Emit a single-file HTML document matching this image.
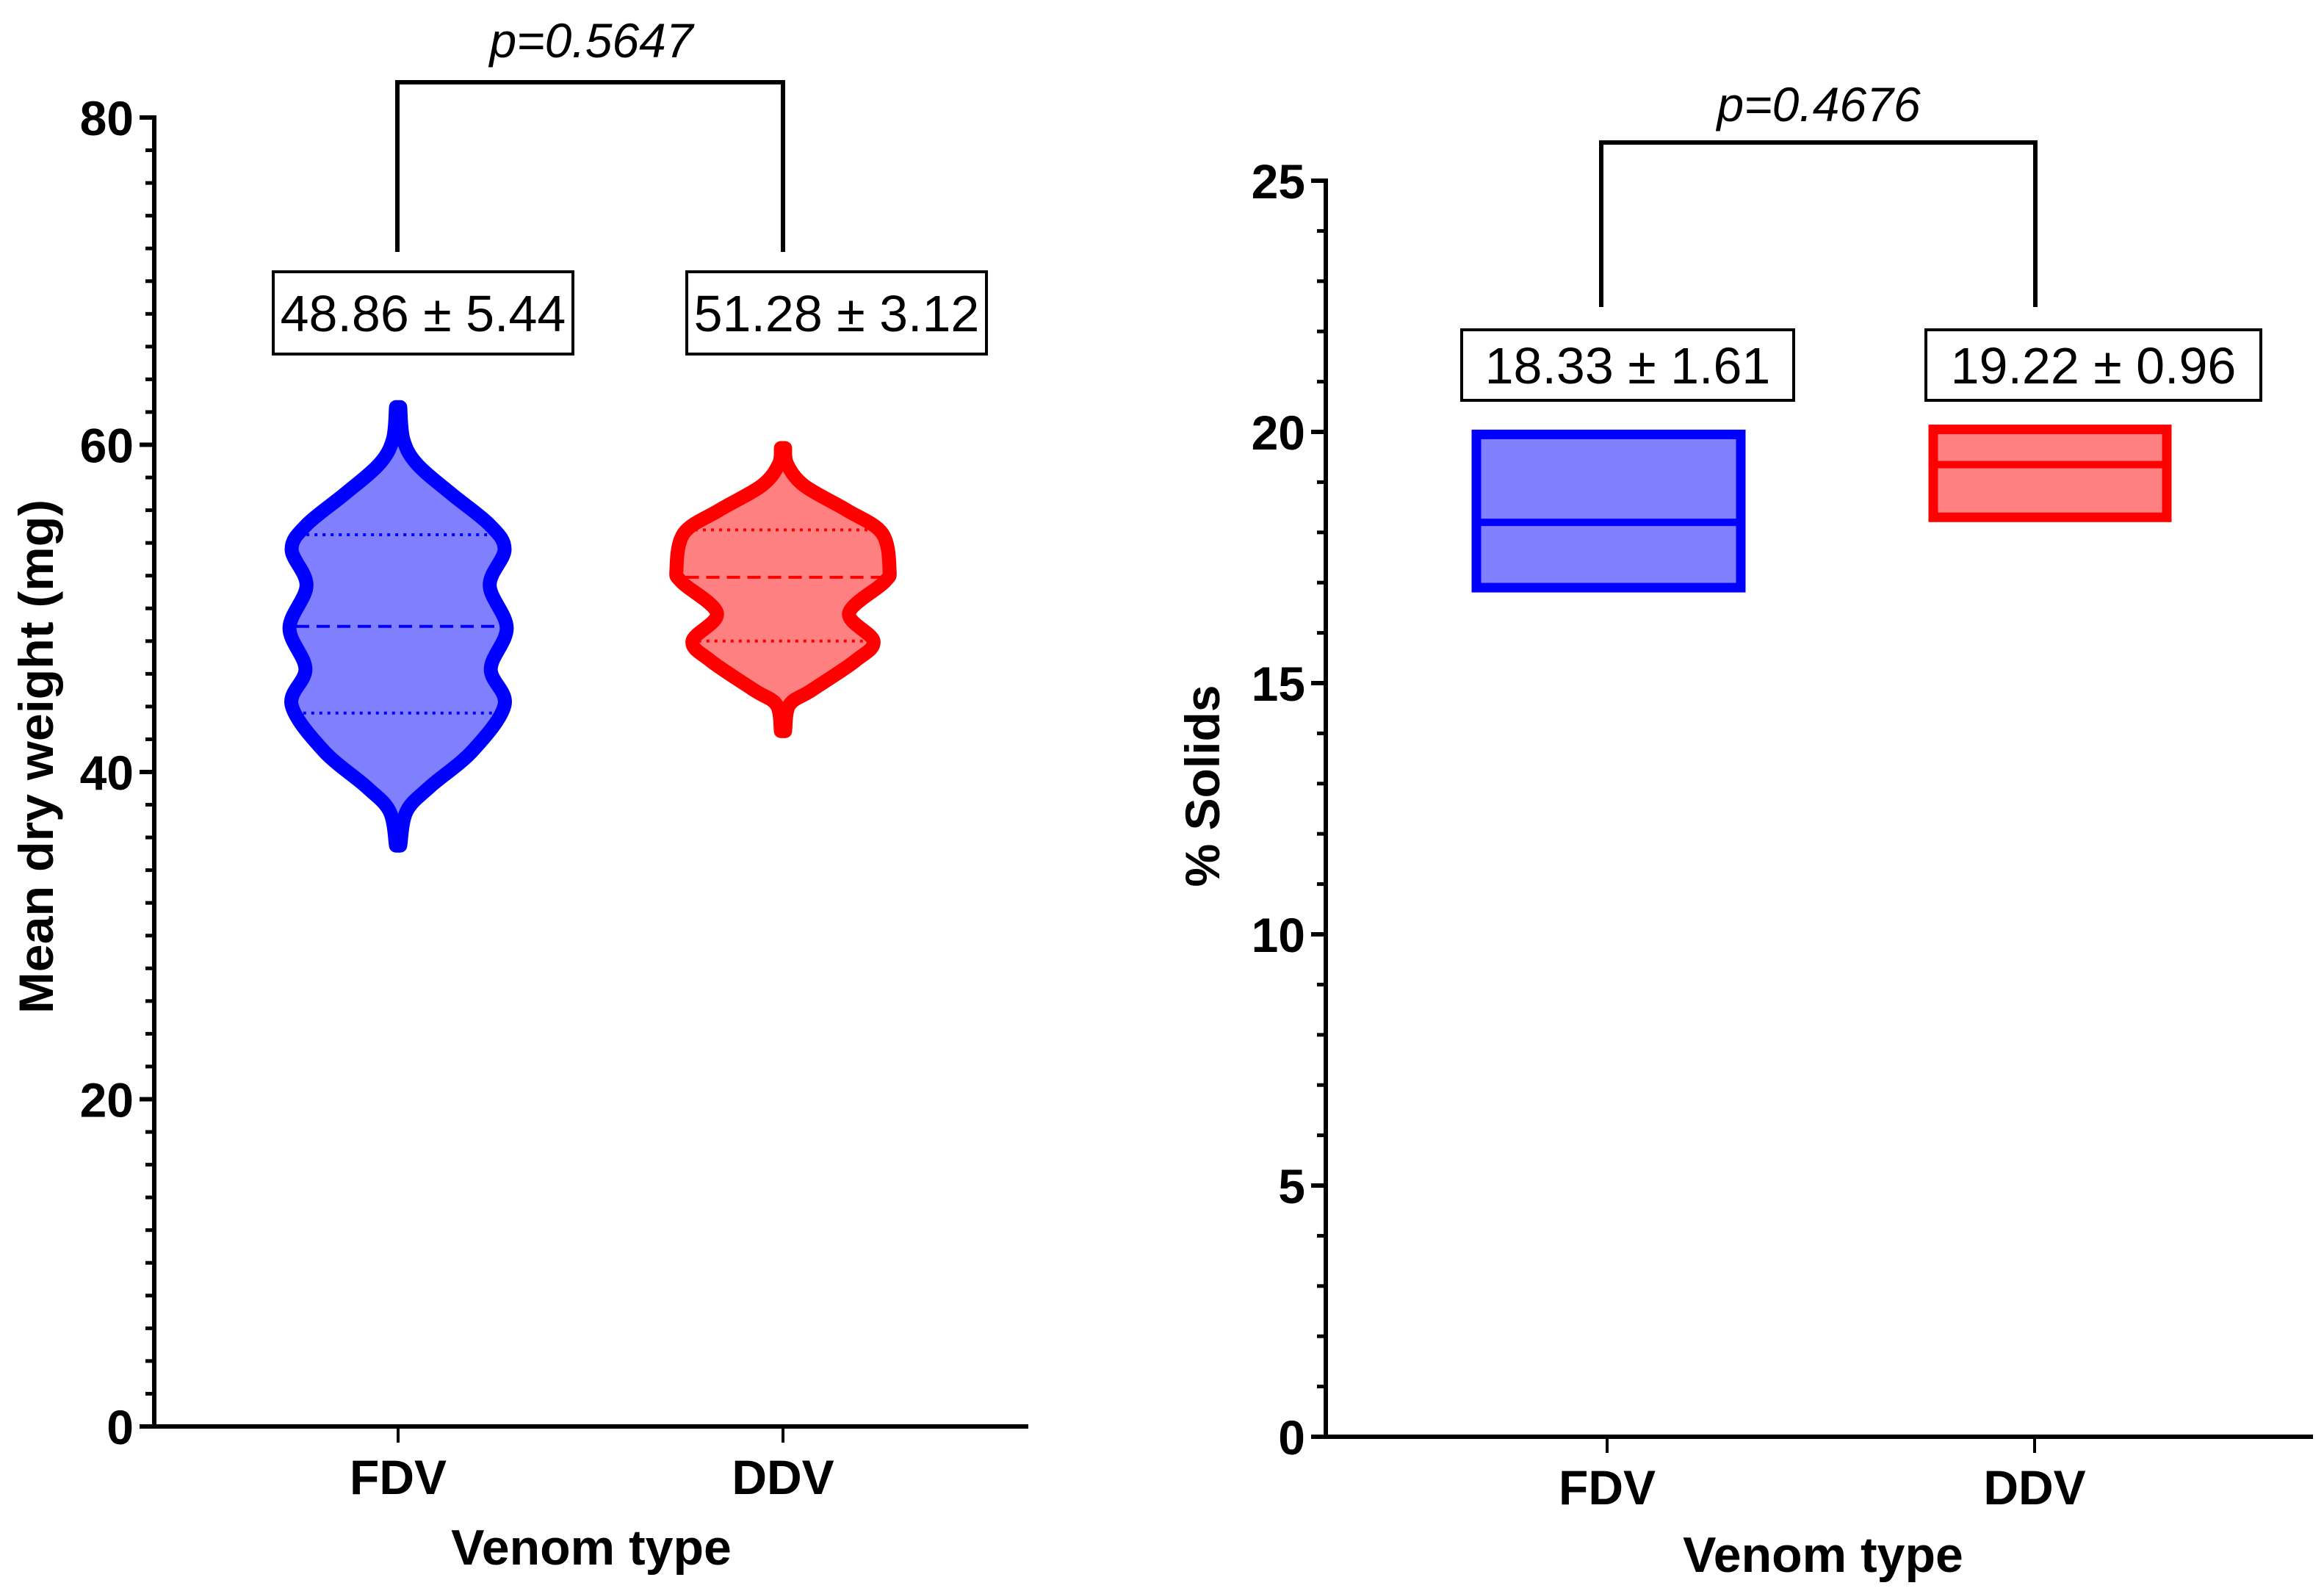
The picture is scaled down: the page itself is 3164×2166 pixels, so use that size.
<!DOCTYPE html>
<html><head><meta charset="utf-8"><style>
html,body{margin:0;padding:0;background:#fff;}
svg{display:block;font-family:"Liberation Sans",Arial,sans-serif;}
</style></head><body>
<svg id="chart" width="3164" height="2166" viewBox="0 0 3164 2166" xmlns="http://www.w3.org/2000/svg">
<g id="left"></g>
<g id="right"></g>
</svg>
<script>
// ---- data ----
const categories = ["FDV", "DDV"];
const leftTicks = [0, 20, 40, 60, 80];
const rightTicks = [0, 5, 10, 15, 20, 25];
const fdvProfileY = [35.5, 37.6, 39.1, 41.3, 44.1, 46.3, 48.8, 51.4, 53.6, 55.1, 57, 58.8, 60.3, 62.3];
const fdvProfileW = [0.02, 0.08, 0.30, 0.70, 1.0, 0.87, 1.02, 0.86, 1.0, 0.86, 0.5, 0.18, 0.05, 0.02];
const ddvProfileY = [42.5, 44.1, 45, 46.8, 48, 49.7, 51.6, 52.4, 54.6, 56, 57.5, 58.8, 59.8];
const ddvProfileW = [0.02, 0.06, 0.27, 0.68, 0.85, 0.62, 0.95, 1.0, 0.93, 0.6, 0.2, 0.04, 0.02];
const fdvQuartiles = [43.6, 48.9, 54.5];
const ddvQuartiles = [48.0, 51.9, 54.8];
const leftLabels = ["48.86 \u00b1 5.44", "51.28 \u00b1 3.12"];
const leftP = "p=0.5647";
const fdvBox = [16.9, 18.2, 19.95];
const ddvBox = [18.3, 19.35, 20.05];
const rightLabels = ["18.33 \u00b1 1.61", "19.22 \u00b1 0.96"];
const rightP = "p=0.4676";

const NS = "http://www.w3.org/2000/svg";
function mk(parent, tag, attrs, text) {
  const e = document.createElementNS(NS, tag);
  for (const k in attrs) e.setAttribute(k, attrs[k]);
  if (text !== undefined) e.textContent = text;
  parent.appendChild(e);
  return e;
}

// ---- left panel ----
const L = document.getElementById("left");
const lx0 = 210, lx1 = 1400, ly0 = 1942, ly80 = 160;
const ly = v => ly0 + (ly80 - ly0) * v / 80;
const lcx = [542, 1066];

function axes(g, x0, x1, y0, ytop, yscale, ticks, minorStep, maxV, catX) {
  let e = mk(g, "line", {x1: x0, y1: ytop - 3, x2: x0, y2: y0 + 3, stroke: "#000", "stroke-width": 6});
  
  
  e = mk(g, "line", {x1: x0 - 20, y1: y0, x2: x1, y2: y0, stroke: "#000", "stroke-width": 6});
  
  
  for (let v = 0; v <= maxV + 1e-9; v += minorStep) {
    const isMajor = ticks.some(t => Math.abs(t - v) < 1e-6);
    const t = mk(g, "line", {x1: x0 - (isMajor ? 20 : 12), y1: yscale(v), x2: x0, y2: yscale(v), stroke: "#000", "stroke-width": isMajor ? 6 : 5});
    
    
  }
  ticks.forEach(v => {
    const t = mk(g, "text", {x: x0 - 28, y: yscale(v) + 24, "text-anchor": "end", "font-size": 66, "font-weight": "bold"}, String(v));
    
    
  });
  categories.forEach((c, i) => {
    let t = mk(g, "line", {x1: catX[i], y1: y0, x2: catX[i], y2: y0 + 22, stroke: "#000", "stroke-width": 4});
    
    
    t = mk(g, "text", {x: catX[i], y: y0 + 92, "text-anchor": "middle", "font-size": 66, "font-weight": "bold"}, c);
    
    
  });
}
axes(L, lx0, lx1, ly0, ly80, ly, leftTicks, 2, 80, lcx);

let t = mk(L, "text", {x: 805, y: 2130, "text-anchor": "middle", "font-size": 68, "font-weight": "bold"}, "Venom type");


t = mk(L, "text", {x: 0, y: 0, transform: "translate(72,1030) rotate(-90)", "text-anchor": "middle", "font-size": 66, "font-weight": "bold", textLength: 700, lengthAdjust: "spacingAndGlyphs"}, "Mean dry weight (mg)");



function catmull(pts) {
  let d = "M" + pts[0][0] + "," + pts[0][1];
  for (let i = 0; i < pts.length - 1; i++) {
    const p0 = pts[Math.max(0, i - 1)], p1 = pts[i], p2 = pts[i + 1], p3 = pts[Math.min(pts.length - 1, i + 2)];
    const c1 = [p1[0] + (p2[0] - p0[0]) / 6, p1[1] + (p2[1] - p0[1]) / 6];
    const c2 = [p2[0] - (p3[0] - p1[0]) / 6, p2[1] - (p3[1] - p1[1]) / 6];
    d += " C" + c1[0] + "," + c1[1] + " " + c2[0] + "," + c2[1] + " " + p2[0] + "," + p2[1];
  }
  return d;
}
function interpW(ys, ws, v) {
  for (let i = 0; i < ys.length - 1; i++) {
    if (v >= ys[i] && v <= ys[i + 1]) return ws[i] + (ws[i + 1] - ws[i]) * (v - ys[i]) / (ys[i + 1] - ys[i]);
  }
  return 0;
}
const HW = 145;
function violin(cx, ys, ws, q, stroke, fill, name) {
  const right = ys.map((v, i) => [cx + ws[i] * HW, ly(v)]);
  const left = ys.map((v, i) => [cx - ws[i] * HW, ly(v)]).reverse();
  const d = catmull(right) + " L" + left[0][0] + "," + left[0][1] + catmull(left).replace(/^M[^ C]+/, "") + " Z";
  let e = mk(L, "path", {d: d, fill: fill, stroke: stroke, "stroke-width": 19, "stroke-linejoin": "round"});
  
  
  q.forEach((v, i) => {
    const w = interpW(ys, ws, v) * HW - 8;
    const ln = mk(L, "line", {x1: cx - w, y1: ly(v), x2: cx + w, y2: ly(v), stroke: stroke, "stroke-width": 4, "stroke-dasharray": i === 1 ? "18,10" : "4,7"});
    
    
  });
}
violin(lcx[0], fdvProfileY, fdvProfileW, fdvQuartiles, "#0000ff", "#8080ff", "violin-fdv");
violin(lcx[1], ddvProfileY, ddvProfileW, ddvQuartiles, "#ff0000", "#ff8080", "violin-ddv");

function labelBox(g, x0, x1, y0, y1, text, name) {
  let e = mk(g, "rect", {x: x0, y: y0, width: x1 - x0, height: y1 - y0, fill: "#fff", stroke: "#000", "stroke-width": 4});
  
  
  e = mk(g, "text", {x: (x0 + x1) / 2, y: (y0 + y1) / 2 + 25, "text-anchor": "middle", "font-size": 70}, text);
  
  
}
labelBox(L, 372, 780, 370, 482, leftLabels[0], "fdv-mean-sd-label");
labelBox(L, 935, 1343, 370, 482, leftLabels[1], "ddv-mean-sd-label");

function bracket(g, xa, xb, ytop, ybot, ptext, px, py) {
  let e = mk(g, "path", {d: "M" + xa + "," + ybot + " V" + ytop + " H" + xb + " V" + ybot, fill: "none", stroke: "#000", "stroke-width": 6});
  
  
  e = mk(g, "text", {x: px, y: py, "text-anchor": "middle", "font-size": 66, "font-style": "italic"}, ptext);
  
  
}
bracket(L, 541, 1066, 112, 343, leftP, 805, 78);

// ---- right panel ----
const R = document.getElementById("right");
const rx0 = 1805, rx1 = 3149, ry0 = 1956, ry25 = 246;
const ry = v => ry0 + (ry25 - ry0) * v / 25;
const rcx = [2188, 2770];
axes(R, rx0, rx1, ry0, ry25, ry, rightTicks, 1, 25, rcx);
t = mk(R, "text", {x: (rx0 + rx1) / 2 + 5, y: 2140, "text-anchor": "middle", "font-size": 68, "font-weight": "bold"}, "Venom type");


t = mk(R, "text", {x: 0, y: 0, transform: "translate(1660,1070) rotate(-90)", "text-anchor": "middle", "font-size": 66, "font-weight": "bold", textLength: 275, lengthAdjust: "spacingAndGlyphs"}, "% Solids");



function box(xa, xb, b, stroke, fill, name) {
  let e = mk(R, "rect", {x: xa, y: ry(b[2]), width: xb - xa, height: ry(b[0]) - ry(b[2]), fill: fill, stroke: stroke, "stroke-width": 13});
  
  
  e = mk(R, "line", {x1: xa, y1: ry(b[1]), x2: xb, y2: ry(b[1]), stroke: stroke, "stroke-width": 10});
  
  
}
box(2010, 2370, fdvBox, "#0000ff", "#8080ff", "box-fdv");
box(2632, 2950, ddvBox, "#ff0000", "#ff8080", "box-ddv");
labelBox(R, 1990, 2442, 449, 545, rightLabels[0], "fdv-mean-sd-label");
labelBox(R, 2622, 3078, 449, 545, rightLabels[1], "ddv-mean-sd-label");
bracket(R, 2180, 2771, 194, 418, rightP, 2476, 165);
</script>
</body></html>
